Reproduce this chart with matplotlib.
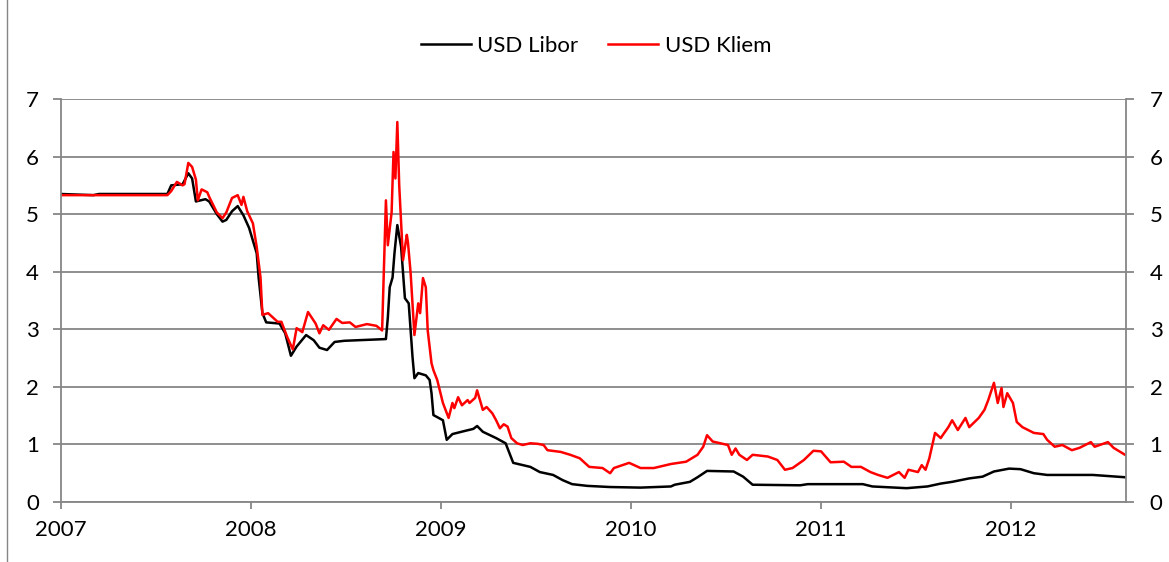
import matplotlib
matplotlib.use("Agg")
import matplotlib.pyplot as plt
from matplotlib.lines import Line2D

plt.rcParams['font.family'] = ['Lato', 'DejaVu Sans']

# decimal years and rates (%)
libor_t = [2007.00, 2007.17, 2007.20, 2007.56, 2007.58, 2007.64, 2007.67, 2007.69, 2007.71,
           2007.76, 2007.78, 2007.82, 2007.85, 2007.87, 2007.90, 2007.93, 2007.96, 2007.99,
           2008.03, 2008.04, 2008.06, 2008.08, 2008.15, 2008.18, 2008.21, 2008.24, 2008.29,
           2008.33, 2008.36, 2008.40, 2008.44, 2008.49, 2008.71, 2008.72, 2008.73, 2008.745,
           2008.755, 2008.77, 2008.79, 2008.81, 2008.83, 2008.85, 2008.86, 2008.88, 2008.92,
           2008.94, 2008.95, 2008.96, 2009.01, 2009.03, 2009.06, 2009.12, 2009.17, 2009.19,
           2009.22, 2009.29, 2009.34, 2009.36, 2009.38, 2009.47, 2009.52, 2009.59, 2009.64,
           2009.69, 2009.77, 2009.89, 2010.05, 2010.21, 2010.23, 2010.31, 2010.35, 2010.40,
           2010.54, 2010.59, 2010.64, 2010.89, 2010.93, 2011.22, 2011.27, 2011.45, 2011.56,
           2011.63, 2011.69, 2011.78, 2011.85, 2011.91, 2011.99, 2012.05, 2012.12, 2012.19,
           2012.43, 2012.60]
libor = [5.35, 5.33, 5.35, 5.35, 5.50, 5.52, 5.71, 5.62, 5.22,
         5.26, 5.22, 5.00, 4.87, 4.90, 5.05, 5.14, 4.98, 4.76,
         4.32, 3.90, 3.28, 3.12, 3.10, 2.93, 2.54, 2.70, 2.90,
         2.81, 2.68, 2.64, 2.78, 2.80, 2.83, 3.20, 3.73, 3.90,
         4.32, 4.81, 4.43, 3.54, 3.45, 2.52, 2.15, 2.24, 2.20,
         2.12, 1.89, 1.51, 1.42, 1.08, 1.18, 1.23, 1.27, 1.32,
         1.22, 1.11, 1.02, 0.85, 0.68, 0.61, 0.52, 0.47, 0.38,
         0.31, 0.28, 0.26, 0.25, 0.27, 0.30, 0.35, 0.43, 0.54,
         0.53, 0.44, 0.30, 0.29, 0.31, 0.31, 0.27, 0.24, 0.27,
         0.32, 0.35, 0.41, 0.44, 0.53, 0.58, 0.57, 0.50, 0.47,
         0.47, 0.43]

kliem_t = [2007.00, 2007.56, 2007.58, 2007.61, 2007.64, 2007.65, 2007.67, 2007.69, 2007.71,
           2007.72, 2007.74, 2007.77, 2007.78, 2007.82, 2007.85, 2007.87, 2007.90, 2007.93,
           2007.95, 2007.96, 2007.98, 2008.01, 2008.03, 2008.05, 2008.06, 2008.09, 2008.14,
           2008.16, 2008.19, 2008.22, 2008.24, 2008.27, 2008.30, 2008.32, 2008.34, 2008.36,
           2008.38, 2008.41, 2008.45, 2008.48, 2008.52, 2008.55, 2008.61, 2008.66, 2008.69,
           2008.71, 2008.72, 2008.74, 2008.75, 2008.76, 2008.77, 2008.78, 2008.80, 2008.82,
           2008.826, 2008.84, 2008.86, 2008.88, 2008.89, 2008.905, 2008.92, 2008.93, 2008.95,
           2008.96, 2008.98, 2009.01, 2009.04, 2009.06, 2009.07, 2009.09, 2009.11, 2009.14,
           2009.15, 2009.18, 2009.19, 2009.22, 2009.24, 2009.27, 2009.29, 2009.31, 2009.33,
           2009.35, 2009.37, 2009.40, 2009.43, 2009.47, 2009.51, 2009.54, 2009.56, 2009.63,
           2009.68, 2009.73, 2009.78, 2009.85, 2009.89, 2009.91, 2009.99, 2010.05, 2010.12,
           2010.21, 2010.29, 2010.35, 2010.38, 2010.40, 2010.43, 2010.47, 2010.51, 2010.53,
           2010.55, 2010.57, 2010.61, 2010.64, 2010.72, 2010.77, 2010.81, 2010.85, 2010.91,
           2010.96, 2011.00, 2011.05, 2011.12, 2011.16, 2011.21, 2011.26, 2011.30, 2011.35,
           2011.41, 2011.44, 2011.46, 2011.51, 2011.53, 2011.55, 2011.57, 2011.60, 2011.63,
           2011.64, 2011.67, 2011.69, 2011.72, 2011.76, 2011.78, 2011.83, 2011.86, 2011.88,
           2011.91, 2011.93, 2011.95, 2011.96, 2011.98, 2012.01, 2012.03, 2012.06, 2012.12,
           2012.17, 2012.19, 2012.23, 2012.27, 2012.32, 2012.36, 2012.42, 2012.44, 2012.51,
           2012.54, 2012.60]
kliem = [5.33, 5.33, 5.40, 5.56, 5.50, 5.52, 5.89, 5.82, 5.60,
         5.24, 5.43, 5.38, 5.30, 5.03, 4.93, 5.03, 5.28, 5.33,
         5.16, 5.30, 5.05, 4.84, 4.43, 3.90, 3.25, 3.28, 3.13,
         3.13, 2.87, 2.65, 3.02, 2.95, 3.30, 3.20, 3.10, 2.93,
         3.07, 2.99, 3.18, 3.11, 3.12, 3.04, 3.09, 3.06, 2.98,
         5.24, 4.46, 5.03, 6.08, 5.62, 6.60, 5.50, 4.20, 4.64,
         4.51, 3.98, 2.90, 3.45, 3.28, 3.89, 3.73, 2.98, 2.41,
         2.29, 2.12, 1.72, 1.46, 1.72, 1.63, 1.82, 1.68, 1.77,
         1.72, 1.81, 1.94, 1.60, 1.65, 1.54, 1.42, 1.28, 1.35,
         1.31, 1.11, 1.02, 0.99, 1.02, 1.01, 0.99, 0.90, 0.87,
         0.82, 0.76, 0.61, 0.59, 0.50, 0.59, 0.68, 0.59, 0.59,
         0.66, 0.70, 0.82, 0.96, 1.16, 1.05, 1.02, 0.99, 0.82,
         0.93, 0.82, 0.73, 0.82, 0.79, 0.73, 0.56, 0.59, 0.73,
         0.89, 0.88, 0.69, 0.70, 0.61, 0.61, 0.52, 0.47, 0.42,
         0.52, 0.42, 0.56, 0.52, 0.64, 0.56, 0.76, 1.20, 1.11,
         1.16, 1.30, 1.42, 1.25, 1.46, 1.30, 1.46, 1.60, 1.77,
         2.07, 1.72, 1.98, 1.65, 1.89, 1.72, 1.39, 1.30, 1.20,
         1.18, 1.08, 0.96, 0.99, 0.90, 0.94, 1.04, 0.96, 1.04,
         0.94, 0.82]

years = [2007, 2008, 2009, 2010, 2011, 2012]
yticks = [0, 1, 2, 3, 4, 5, 6, 7]

grey = '#868686'
fs = 16

fig = plt.figure(figsize=(11.69, 5.62), dpi=100)
ax = fig.add_axes([61 / 1169, 1 - 502 / 562, (1126 - 61) / 1169, (502 - 99) / 562])

ax.plot(libor_t, libor, color='black', lw=1.8, label='USD Libor')
ax.plot(kliem_t, kliem, color='#ff0000', lw=1.8, label='USD Kliem')

ax.set_xlim(2007, 2012.605)
ax.set_ylim(0, 7)
ax.set_yticks(yticks)
ax.set_xticks(years)
ax.set_xticklabels([str(y) for y in years])
ax.yaxis.grid(True, color=grey, lw=1.3)
ax.set_axisbelow(True)

for side in ['left', 'right', 'bottom']:
    ax.spines[side].set_color(grey)
    ax.spines[side].set_linewidth(1.3)
ax.spines['top'].set_visible(False)

ax.tick_params(axis='y', direction='out', length=6, width=1.3, color=grey,
               labelsize=fs, pad=10)
ax.tick_params(axis='x', direction='out', length=5, width=1.3, color=grey,
               labelsize=fs, pad=8)

ax2 = ax.twinx()
ax2.set_ylim(0, 7)
ax2.set_yticks(yticks)
for side in ['left', 'right', 'bottom', 'top']:
    ax2.spines[side].set_visible(False)
ax2.tick_params(axis='y', direction='out', length=6, width=1.3, color=grey,
                labelsize=fs, pad=11)

fig.legend(loc='center', bbox_to_anchor=(596 / 1169, 1 - 46 / 562), ncol=2, frameon=False,
           fontsize=fs, handlelength=2.25, handletextpad=0.3, columnspacing=1.35)

# outer chart frame edge on the left
fig.add_artist(Line2D([7 / 1169, 7 / 1169], [0, 1], color=grey, lw=1.0))

fig.savefig('out.png', dpi=100)
